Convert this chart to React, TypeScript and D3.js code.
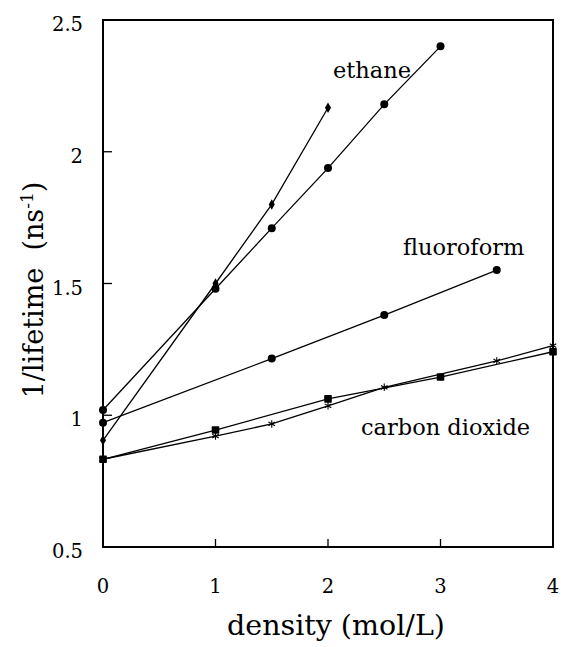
import React, { useEffect, useRef } from 'react';
import * as d3 from 'd3';

// series
const ethaneDiamondX = [0, 1, 1.5, 2];
const ethaneDiamondY = [0.905, 1.5, 1.8, 2.167];
const ethaneCircleX = [0, 1, 1.5, 2, 2.5, 3];
const ethaneCircleY = [1.02, 1.48, 1.71, 1.938, 2.18, 2.4];
const fluoroformX = [0, 1.5, 2.5, 3.5];
const fluoroformY = [0.972, 1.215, 1.38, 1.551];
const co2SquareX = [0, 1, 2, 3, 4];
const co2SquareY = [0.833, 0.944, 1.062, 1.145, 1.241];
const co2StarX = [0, 1, 1.5, 2, 2.5, 3.5, 4];
const co2StarY = [0.833, 0.921, 0.967, 1.036, 1.106, 1.206, 1.264];

const xTicks = [0, 1, 2, 3, 4];
const yTicks = [0.5, 1, 1.5, 2, 2.5];

const W = 561;
const H = 647;
const margin = { top: 20, right: 8, bottom: 100, left: 103 };

const App: React.FC = () => {
  const ref = useRef<SVGSVGElement>(null);

  useEffect(() => {
    if (!ref.current) return;
    const svg = d3.select(ref.current);
    svg.selectAll('*').remove();

    const x = d3.scaleLinear().domain([0, 4]).range([margin.left, W - margin.right]);
    const y = d3.scaleLinear().domain([0.5, 2.5]).range([H - margin.bottom, margin.top]);

    const line = d3
      .line<[number, number]>()
      .x((d) => x(d[0]))
      .y((d) => y(d[1]));

    const zip = (xs: number[], ys: number[]) => xs.map((v, i) => [v, ys[i]] as [number, number]);

    // frame
    svg
      .append('rect')
      .attr('x', x(0))
      .attr('y', y(2.5))
      .attr('width', x(4) - x(0))
      .attr('height', y(0.5) - y(2.5))
      .attr('fill', 'none')
      .attr('stroke', '#000')
      .attr('stroke-width', 2);

    // ticks, inward
    svg
      .selectAll('.xt')
      .data(xTicks.slice(1, -1))
      .enter()
      .append('line')
      .attr('x1', (d) => x(d))
      .attr('x2', (d) => x(d))
      .attr('y1', y(0.5))
      .attr('y2', y(0.5) - 8)
      .attr('stroke', '#000')
      .attr('stroke-width', 1.3);

    svg
      .selectAll('.yt')
      .data(yTicks.slice(1, -1))
      .enter()
      .append('line')
      .attr('x1', x(0))
      .attr('x2', x(0) + 9)
      .attr('y1', (d) => y(d))
      .attr('y2', (d) => y(d))
      .attr('stroke', '#000')
      .attr('stroke-width', 1.3);

    svg
      .selectAll('.xl')
      .data(xTicks)
      .enter()
      .append('text')
      .attr('x', (d) => x(d))
      .attr('y', 593)
      .attr('text-anchor', 'middle')
      .attr('font-size', 19.5)
      .text((d) => String(d));

    svg
      .selectAll('.yl')
      .data(yTicks)
      .enter()
      .append('text')
      .attr('x', 83)
      .attr('y', (d) => y(d) + 11)
      .attr('text-anchor', 'end')
      .attr('font-size', 19.5)
      .text((d) => String(d));

    // axis titles
    svg
      .append('text')
      .attr('x', 336)
      .attr('y', 635)
      .attr('text-anchor', 'middle')
      .attr('font-size', 28.5)
      .text('density (mol/L)');

    const yt = svg
      .append('text')
      .attr('transform', 'translate(43, 290) rotate(-90)')
      .attr('text-anchor', 'middle')
      .attr('font-size', 27);
    yt.append('tspan').text('1/lifetime\u00a0\u00a0(ns');
    yt.append('tspan').attr('dy', -10).attr('font-size', 17).text('-1');
    yt.append('tspan').attr('dy', 10).text(')');

    // lines
    const series = [
      zip(ethaneDiamondX, ethaneDiamondY),
      zip(ethaneCircleX, ethaneCircleY),
      zip(fluoroformX, fluoroformY),
      zip(co2SquareX, co2SquareY),
      zip(co2StarX, co2StarY),
    ];
    series.forEach((s) => {
      svg
        .append('path')
        .attr('d', line(s))
        .attr('fill', 'none')
        .attr('stroke', '#000')
        .attr('stroke-width', 1.3);
    });

    // markers
    svg
      .selectAll('.dia')
      .data(series[0])
      .enter()
      .append('path')
      .attr('d', d3.symbol(d3.symbolDiamond, 32)())
      .attr('transform', (d) => `translate(${x(d[0])},${y(d[1])})`)
      .attr('fill', '#000');

    svg
      .selectAll('.circ')
      .data(series[1].concat(series[2]))
      .enter()
      .append('circle')
      .attr('cx', (d) => x(d[0]))
      .attr('cy', (d) => y(d[1]))
      .attr('r', 4)
      .attr('fill', '#000');

    svg
      .selectAll('.sq')
      .data(series[3])
      .enter()
      .append('rect')
      .attr('x', (d) => x(d[0]) - 3.8)
      .attr('y', (d) => y(d[1]) - 3.8)
      .attr('width', 7.6)
      .attr('height', 7.6)
      .attr('rx', 0.8)
      .attr('fill', '#000');

    svg
      .selectAll('.star')
      .data(series[4])
      .enter()
      .append('path')
      .attr('d', d3.symbol(d3.symbolAsterisk, 40)())
      .attr('transform', (d) => `translate(${x(d[0])},${y(d[1])})`)
      .attr('fill', 'none')
      .attr('stroke', '#000')
      .attr('stroke-width', 1.1);

    // labels
    const labels: [string, number, number][] = [
      ['ethane', 333, 78],
      ['fluoroform', 403, 255],
      ['carbon dioxide', 361, 435],
    ];
    svg
      .selectAll('.lab')
      .data(labels)
      .enter()
      .append('text')
      .attr('x', (d) => d[1])
      .attr('y', (d) => d[2])
      .attr('font-size', 22.5)
      .text((d) => d[0]);
  }, []);

  return (
    <svg
      ref={ref}
      width={W}
      height={H}
      style={{
        display: 'block',
        position: 'absolute',
        left: 0,
        top: 0,
        fontFamily: '"DejaVu Serif", serif',
      }}
    />
  );
};

export default App;
